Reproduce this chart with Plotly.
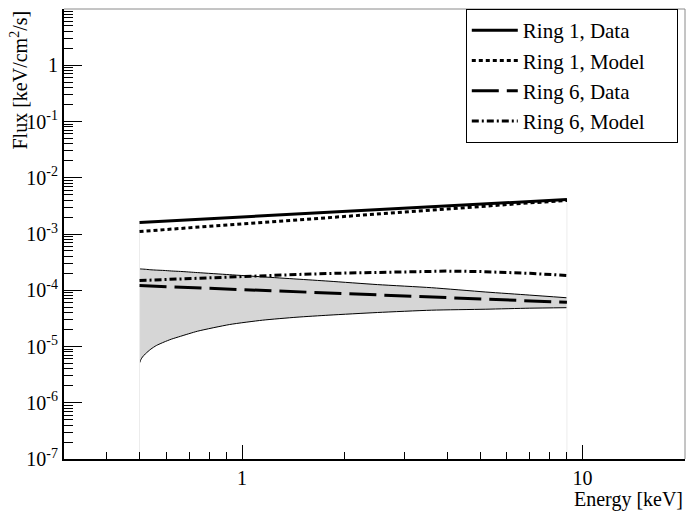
import plotly.graph_objects as go

# ---------------- data ----------------
energy = [0.5, 0.7, 1.0, 1.5, 2.0, 3.0, 4.0, 5.0, 7.0, 9.0]
ring1_data = [1.60e-3, 1.79e-3, 2.00e-3, 2.29e-3, 2.51e-3, 2.87e-3, 3.15e-3, 3.39e-3, 3.78e-3, 4.10e-3]
ring1_model = [1.11e-3, 1.29e-3, 1.52e-3, 1.83e-3, 2.09e-3, 2.52e-3, 2.86e-3, 3.12e-3, 3.57e-3, 3.94e-3]
ring6_data = [1.21e-4, 1.12e-4, 1.03e-4, 9.3e-5, 8.6e-5, 7.8e-5, 7.33e-5, 6.97e-5, 6.46e-5, 6.1e-5]
ring6_model = [1.49e-4, 1.62e-4, 1.76e-4, 1.92e-4, 2.02e-4, 2.14e-4, 2.19e-4, 2.15e-4, 2.00e-4, 1.83e-4]

band_energy = [0.5, 0.505, 0.51, 0.52, 0.54, 0.56, 0.59, 0.62, 0.66, 0.74, 0.92, 1.15, 1.45,
               1.8, 2.5, 3.6, 5.2, 7.0, 9.0]
band_upper = [2.40e-4, 2.39e-4, 2.38e-4, 2.36e-4, 2.31e-4, 2.28e-4, 2.25e-4, 2.20e-4, 2.16e-4,
              2.06e-4, 1.89e-4, 1.73e-4, 1.58e-4, 1.45e-4, 1.26e-4, 1.11e-4, 9.3e-5, 8.2e-5, 7.35e-5]
band_lower = [5.1e-6, 5.9e-6, 6.5e-6, 7.4e-6, 9.0e-6, 1.04e-5, 1.2e-5, 1.35e-5, 1.52e-5,
              1.87e-5, 2.46e-5, 2.94e-5, 3.32e-5, 3.61e-5, 4.02e-5, 4.42e-5, 4.6e-5, 4.8e-5, 4.9e-5]

legend_names = ["Ring 1, Data", "Ring 1, Model", "Ring 6, Data", "Ring 6, Model"]

y_floor = 1e-7
y_major = [1e-7, 1e-6, 1e-5, 1e-4, 1e-3, 1e-2, 1e-1, 1, 10]
y_major_text = ["10<sup>-7</sup>", "10<sup>-6</sup>", "10<sup>-5</sup>", "10<sup>-4</sup>",
                "10<sup>-3</sup>", "10<sup>-2</sup>", "10<sup>-1</sup>", "1", "10"]
x_major = [1, 10]
x_major_text = ["1", "10"]
x_minor = [0.4, 0.5, 0.6, 0.7, 0.8, 0.9, 2, 3, 4, 5, 6, 7, 8, 9, 20]
y_minor = [k * 10.0 ** d for d in range(-7, 1) for k in range(2, 10)]

FONT = "Liberation Serif, Times New Roman, Times, serif"
PAD = "\u00a0" * 5  # trailing room inside the legend box

fig = go.Figure()

# grey error band
fig.add_trace(go.Scatter(
    x=band_energy + band_energy[::-1],
    y=band_upper + band_lower[::-1],
    fill="toself", fillcolor="#d6d6d6", line=dict(width=0),
    mode="lines", showlegend=False, hoverinfo="skip"))
fig.add_trace(go.Scatter(x=band_energy, y=band_upper, mode="lines",
                         line=dict(color="black", width=1, shape="spline", smoothing=0.6),
                         showlegend=False))
fig.add_trace(go.Scatter(x=band_energy, y=band_lower, mode="lines",
                         line=dict(color="black", width=1, shape="spline", smoothing=0.6),
                         showlegend=False))

# faint vertical borders at the ends of the data range
fig.add_trace(go.Scatter(x=[energy[0], energy[0]], y=[y_floor, ring1_data[0]], mode="lines",
                         line=dict(color="#ececec", width=1), showlegend=False))
fig.add_trace(go.Scatter(x=[energy[-1], energy[-1]], y=[y_floor, ring1_data[-1]], mode="lines",
                         line=dict(color="#ececec", width=1), showlegend=False))

fig.add_trace(go.Scatter(x=energy, y=ring1_data, mode="lines", name=legend_names[0] + PAD,
                         line=dict(color="black", width=3)))
fig.add_trace(go.Scatter(x=energy, y=ring1_model, mode="lines", name=legend_names[1] + PAD,
                         line=dict(color="black", width=3, dash="4px,3px")))
fig.add_trace(go.Scatter(x=energy, y=ring6_data, mode="lines", name=legend_names[2] + PAD,
                         line=dict(color="black", width=3, dash="27px,8px")))
fig.add_trace(go.Scatter(x=energy, y=ring6_model, mode="lines", name=legend_names[3] + PAD,
                         line=dict(color="black", width=3, dash="7px,3px,2px,3px")))

fig.update_layout(
    width=686, height=513,
    margin=dict(l=64, r=1, t=9, b=54),
    paper_bgcolor="white", plot_bgcolor="white",
    font=dict(family=FONT, size=20, color="black"),
    showlegend=True,
    legend=dict(x=0.647, y=1.0, xanchor="left", yanchor="top",
                bgcolor="white", bordercolor="black", borderwidth=1,
                font=dict(family=FONT, size=21, color="black"),
                itemwidth=46, tracegroupgap=0),
    xaxis=dict(type="log", range=[-0.5229, 1.3010],
               showgrid=False, zeroline=False,
               showline=True, linecolor="black", linewidth=2, mirror=False,
               ticks="inside", ticklen=14, tickwidth=1, tickcolor="black",
               tickmode="array", tickvals=x_major, ticktext=x_major_text,
               tickfont=dict(family=FONT, size=20, color="black"),
               minor=dict(ticks="inside", ticklen=7, tickwidth=1, tickcolor="black",
                          tickmode="array", tickvals=x_minor, showgrid=False)),
    yaxis=dict(type="log", range=[-7, 1],
               showgrid=False, zeroline=False,
               showline=True, linecolor="black", linewidth=2, mirror=False,
               ticks="inside", ticklen=18, tickwidth=1, tickcolor="black",
               tickmode="array", tickvals=y_major, ticktext=y_major_text,
               tickfont=dict(family=FONT, size=20, color="black"),
               minor=dict(ticks="inside", ticklen=9, tickwidth=1, tickcolor="black",
                          tickmode="array", tickvals=y_minor, showgrid=False)),
    shapes=[
        dict(type="line", xref="paper", yref="paper", x0=0, x1=1, y0=1, y1=1,
             line=dict(color="#8a8a8a", width=1)),
        dict(type="line", xref="paper", yref="paper", x0=1, x1=1, y0=0, y1=1,
             line=dict(color="#8a8a8a", width=1)),
    ],
    annotations=[
        dict(text="Flux [keV/cm<sup>2</sup>/s]", xref="paper", yref="paper",
             x=0, y=1, xanchor="center", yanchor="top", xshift=-46, textangle=-90,
             showarrow=False, font=dict(family=FONT, size=20, color="black")),
        dict(text="Energy [keV]", xref="paper", yref="paper",
             x=1, y=0, xanchor="right", yanchor="middle", yshift=-40,
             showarrow=False, font=dict(family=FONT, size=20, color="black")),
    ],
)

fig.write_html("out.html")
